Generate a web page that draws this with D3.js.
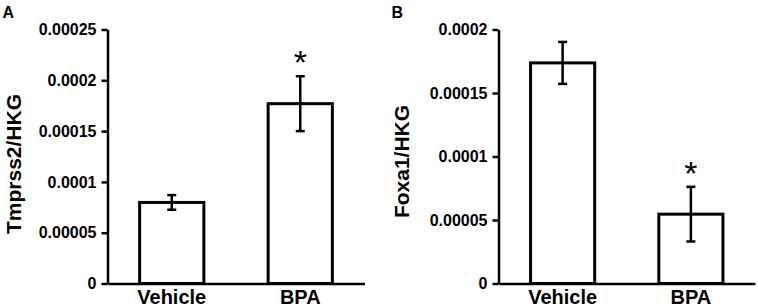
<!DOCTYPE html>
<html>
<head>
<meta charset="utf-8">
<script src="https://cdn.jsdelivr.net/npm/d3@7"></script>
<style>
  body { margin: 0; background: #fff; }
  svg text { font-family: "Liberation Sans", Arial, sans-serif; font-weight: bold; fill: #000; }
</style>
</head>
<body>
<svg id="chart"></svg>
<script>
// two bar panels: qPCR ratio, vehicle vs BPA

const groups = ["Vehicle", "BPA"];

// panel A
const tmprssMean = [0.0000798, 0.000177];
const tmprssErr = [0.0000072, 0.000027];
const tmprssSig = [false, true];
const tmprssTicks = [0, 0.00005, 0.0001, 0.00015, 0.0002, 0.00025];

// panel B
const foxaMean = [0.0001737, 0.0000546];
const foxaErr = [0.0000165, 0.0000215];
const foxaSig = [false, true];
const foxaTicks = [0, 0.00005, 0.0001, 0.00015, 0.0002];

const W = 758, H = 307;
const svg = d3.select("#chart").attr("width", W).attr("height", H);

function panel(opt) {
  const g = svg.append("g");
  const yMax = opt.ticks[opt.ticks.length - 1];
  const y = d3.scaleLinear().domain([0, yMax]).range([283.5, 29.5]);
  const x = d3.scaleBand().domain(groups)
    .range([opt.left, opt.right])
    .paddingInner(0.5).paddingOuter(0.25);

  const data = groups.map((k, i) => ({ k, m: opt.mean[i], e: opt.err[i], sig: opt.sig[i] }));

  // bars
  g.selectAll("rect.bar").data(data).join("rect")
    .attr("class", "bar")
    .attr("x", d => x(d.k)).attr("width", x.bandwidth())
    .attr("y", d => y(d.m)).attr("height", d => y(0) - y(d.m))
    .attr("fill", "#fff").attr("stroke", "#000").attr("stroke-width", 3);

  // error bars
  const cap = 4.5;
  data.forEach(d => {
    const cx = x(d.k) + x.bandwidth() / 2;
    g.append("line")
      .attr("x1", cx).attr("x2", cx)
      .attr("y1", y(d.m + d.e)).attr("y2", y(d.m - d.e))
      .attr("stroke", "#000").attr("stroke-width", 2.5);
    [d.m + d.e, d.m - d.e].forEach(v => {
      g.append("line")
        .attr("x1", cx - cap).attr("x2", cx + cap)
        .attr("y1", y(v)).attr("y2", y(v))
        .attr("stroke", "#000").attr("stroke-width", 2.5);
    });
    if (d.sig) {
      g.append("text")
        .attr("x", cx).attr("y", y(d.m + d.e) - 2)
        .attr("text-anchor", "middle")
        .attr("font-size", 34)
        .style("font-weight", "normal")
        .text("*");
    }
  });

  // y axis
  const ya = g.append("g")
    .attr("transform", `translate(${opt.left},0)`)
    .call(d3.axisLeft(y).tickValues(opt.ticks).tickSize(6).tickSizeOuter(0).tickPadding(5)
      .tickFormat(d => d === 0 ? "0" : String(d)));
  ya.selectAll("path, line").attr("stroke", "#000").attr("stroke-width", 2.5);
  ya.selectAll("text").attr("font-size", 16).attr("font-family", null);

  // x axis
  const xa = g.append("g")
    .attr("transform", `translate(0,${y(0)})`)
    .call(d3.axisBottom(x).tickSize(0).tickSizeOuter(0).tickPadding(6));
  xa.select("path").attr("stroke", "#000").attr("stroke-width", 2.5);
  xa.selectAll("text").attr("font-size", 20).attr("font-family", null);

  // axis title
  g.append("text")
    .attr("transform", `translate(${opt.titleX},${opt.titleY}) rotate(-90)`)
    .attr("text-anchor", "middle")
    .attr("font-size", 21)
    .text(opt.title);

  // panel letter
  g.append("text")
    .attr("x", opt.letterX).attr("y", 17.5)
    .attr("font-size", 16)
    .text(opt.letter);
}

panel({
  left: 107.5, right: 364.5,
  mean: tmprssMean, err: tmprssErr, sig: tmprssSig, ticks: tmprssTicks,
  title: "Tmprss2/HKG", titleX: 21, titleY: 164,
  letter: "A", letterX: 2.5
});

panel({
  left: 498.5, right: 755,
  mean: foxaMean, err: foxaErr, sig: foxaSig, ticks: foxaTicks,
  title: "Foxa1/HKG", titleX: 409, titleY: 161.5,
  letter: "B", letterX: 391.5
});
</script>
</body>
</html>
